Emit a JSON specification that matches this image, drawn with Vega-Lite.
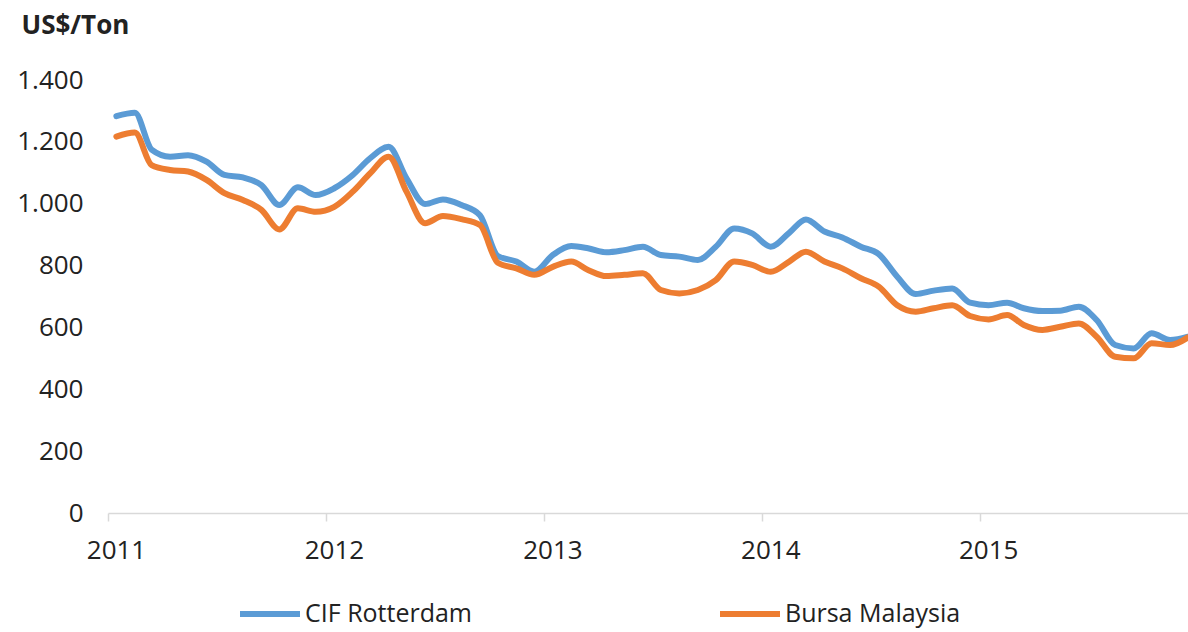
{
  "$schema": "https://vega.github.io/schema/vega-lite/v6.json",
  "width": 1080,
  "height": 433,
  "autosize": {"type": "none"},
  "padding": {"left": 108, "top": 80, "right": 0, "bottom": 119},
  "background": "white",
  "config": {
    "view": {"stroke": null},
    "font": "Open Sans",
    "text": {"font": "Open Sans"}
  },
  "data": {
    "values": [
      {"date":"2011-01-15","series":"CIF Rotterdam","price":1283},
      {"date":"2011-02-15","series":"CIF Rotterdam","price":1294},
      {"date":"2011-03-15","series":"CIF Rotterdam","price":1175},
      {"date":"2011-04-15","series":"CIF Rotterdam","price":1152},
      {"date":"2011-05-15","series":"CIF Rotterdam","price":1157},
      {"date":"2011-06-15","series":"CIF Rotterdam","price":1136},
      {"date":"2011-07-15","series":"CIF Rotterdam","price":1093},
      {"date":"2011-08-15","series":"CIF Rotterdam","price":1085},
      {"date":"2011-09-15","series":"CIF Rotterdam","price":1060},
      {"date":"2011-10-15","series":"CIF Rotterdam","price":996},
      {"date":"2011-11-15","series":"CIF Rotterdam","price":1053},
      {"date":"2011-12-15","series":"CIF Rotterdam","price":1028},
      {"date":"2012-01-15","series":"CIF Rotterdam","price":1050},
      {"date":"2012-02-15","series":"CIF Rotterdam","price":1093},
      {"date":"2012-03-15","series":"CIF Rotterdam","price":1147},
      {"date":"2012-04-15","series":"CIF Rotterdam","price":1184},
      {"date":"2012-05-15","series":"CIF Rotterdam","price":1082},
      {"date":"2012-06-15","series":"CIF Rotterdam","price":999},
      {"date":"2012-07-15","series":"CIF Rotterdam","price":1014},
      {"date":"2012-08-15","series":"CIF Rotterdam","price":996},
      {"date":"2012-09-15","series":"CIF Rotterdam","price":963},
      {"date":"2012-10-15","series":"CIF Rotterdam","price":831},
      {"date":"2012-11-15","series":"CIF Rotterdam","price":813},
      {"date":"2012-12-15","series":"CIF Rotterdam","price":780},
      {"date":"2013-01-15","series":"CIF Rotterdam","price":834},
      {"date":"2013-02-15","series":"CIF Rotterdam","price":863},
      {"date":"2013-03-15","series":"CIF Rotterdam","price":856},
      {"date":"2013-04-15","series":"CIF Rotterdam","price":843},
      {"date":"2013-05-15","series":"CIF Rotterdam","price":850},
      {"date":"2013-06-15","series":"CIF Rotterdam","price":861},
      {"date":"2013-07-15","series":"CIF Rotterdam","price":834},
      {"date":"2013-08-15","series":"CIF Rotterdam","price":829},
      {"date":"2013-09-15","series":"CIF Rotterdam","price":818},
      {"date":"2013-10-15","series":"CIF Rotterdam","price":861},
      {"date":"2013-11-15","series":"CIF Rotterdam","price":920},
      {"date":"2013-12-15","series":"CIF Rotterdam","price":904},
      {"date":"2014-01-15","series":"CIF Rotterdam","price":861},
      {"date":"2014-02-15","series":"CIF Rotterdam","price":906},
      {"date":"2014-03-15","series":"CIF Rotterdam","price":949},
      {"date":"2014-04-15","series":"CIF Rotterdam","price":910},
      {"date":"2014-05-15","series":"CIF Rotterdam","price":891},
      {"date":"2014-06-15","series":"CIF Rotterdam","price":861},
      {"date":"2014-07-15","series":"CIF Rotterdam","price":837},
      {"date":"2014-08-15","series":"CIF Rotterdam","price":764},
      {"date":"2014-09-15","series":"CIF Rotterdam","price":708},
      {"date":"2014-10-15","series":"CIF Rotterdam","price":719},
      {"date":"2014-11-15","series":"CIF Rotterdam","price":726},
      {"date":"2014-12-15","series":"CIF Rotterdam","price":680},
      {"date":"2015-01-15","series":"CIF Rotterdam","price":672},
      {"date":"2015-02-15","series":"CIF Rotterdam","price":680},
      {"date":"2015-03-15","series":"CIF Rotterdam","price":662},
      {"date":"2015-04-15","series":"CIF Rotterdam","price":653},
      {"date":"2015-05-15","series":"CIF Rotterdam","price":654},
      {"date":"2015-06-15","series":"CIF Rotterdam","price":667},
      {"date":"2015-07-15","series":"CIF Rotterdam","price":624},
      {"date":"2015-08-15","series":"CIF Rotterdam","price":543},
      {"date":"2015-09-15","series":"CIF Rotterdam","price":532},
      {"date":"2015-10-15","series":"CIF Rotterdam","price":581},
      {"date":"2015-11-15","series":"CIF Rotterdam","price":559},
      {"date":"2015-12-15","series":"CIF Rotterdam","price":570},
      {"date":"2011-01-15","series":"Bursa Malaysia","price":1217},
      {"date":"2011-02-15","series":"Bursa Malaysia","price":1230},
      {"date":"2011-03-15","series":"Bursa Malaysia","price":1125},
      {"date":"2011-04-15","series":"Bursa Malaysia","price":1109},
      {"date":"2011-05-15","series":"Bursa Malaysia","price":1104},
      {"date":"2011-06-15","series":"Bursa Malaysia","price":1077},
      {"date":"2011-07-15","series":"Bursa Malaysia","price":1034},
      {"date":"2011-08-15","series":"Bursa Malaysia","price":1012},
      {"date":"2011-09-15","series":"Bursa Malaysia","price":980},
      {"date":"2011-10-15","series":"Bursa Malaysia","price":917},
      {"date":"2011-11-15","series":"Bursa Malaysia","price":985},
      {"date":"2011-12-15","series":"Bursa Malaysia","price":974},
      {"date":"2012-01-15","series":"Bursa Malaysia","price":990},
      {"date":"2012-02-15","series":"Bursa Malaysia","price":1039},
      {"date":"2012-03-15","series":"Bursa Malaysia","price":1098},
      {"date":"2012-04-15","series":"Bursa Malaysia","price":1152},
      {"date":"2012-05-15","series":"Bursa Malaysia","price":1039},
      {"date":"2012-06-15","series":"Bursa Malaysia","price":937},
      {"date":"2012-07-15","series":"Bursa Malaysia","price":960},
      {"date":"2012-08-15","series":"Bursa Malaysia","price":950},
      {"date":"2012-09-15","series":"Bursa Malaysia","price":931},
      {"date":"2012-10-15","series":"Bursa Malaysia","price":809},
      {"date":"2012-11-15","series":"Bursa Malaysia","price":791},
      {"date":"2012-12-15","series":"Bursa Malaysia","price":770},
      {"date":"2013-01-15","series":"Bursa Malaysia","price":796},
      {"date":"2013-02-15","series":"Bursa Malaysia","price":813},
      {"date":"2013-03-15","series":"Bursa Malaysia","price":786},
      {"date":"2013-04-15","series":"Bursa Malaysia","price":766},
      {"date":"2013-05-15","series":"Bursa Malaysia","price":770},
      {"date":"2013-06-15","series":"Bursa Malaysia","price":775},
      {"date":"2013-07-15","series":"Bursa Malaysia","price":721},
      {"date":"2013-08-15","series":"Bursa Malaysia","price":710},
      {"date":"2013-09-15","series":"Bursa Malaysia","price":721},
      {"date":"2013-10-15","series":"Bursa Malaysia","price":753},
      {"date":"2013-11-15","series":"Bursa Malaysia","price":813},
      {"date":"2013-12-15","series":"Bursa Malaysia","price":802},
      {"date":"2014-01-15","series":"Bursa Malaysia","price":780},
      {"date":"2014-02-15","series":"Bursa Malaysia","price":813},
      {"date":"2014-03-15","series":"Bursa Malaysia","price":845},
      {"date":"2014-04-15","series":"Bursa Malaysia","price":813},
      {"date":"2014-05-15","series":"Bursa Malaysia","price":791},
      {"date":"2014-06-15","series":"Bursa Malaysia","price":759},
      {"date":"2014-07-15","series":"Bursa Malaysia","price":732},
      {"date":"2014-08-15","series":"Bursa Malaysia","price":672},
      {"date":"2014-09-15","series":"Bursa Malaysia","price":651},
      {"date":"2014-10-15","series":"Bursa Malaysia","price":662},
      {"date":"2014-11-15","series":"Bursa Malaysia","price":672},
      {"date":"2014-12-15","series":"Bursa Malaysia","price":637},
      {"date":"2015-01-15","series":"Bursa Malaysia","price":626},
      {"date":"2015-02-15","series":"Bursa Malaysia","price":640},
      {"date":"2015-03-15","series":"Bursa Malaysia","price":608},
      {"date":"2015-04-15","series":"Bursa Malaysia","price":592},
      {"date":"2015-05-15","series":"Bursa Malaysia","price":602},
      {"date":"2015-06-15","series":"Bursa Malaysia","price":613},
      {"date":"2015-07-15","series":"Bursa Malaysia","price":570},
      {"date":"2015-08-15","series":"Bursa Malaysia","price":505},
      {"date":"2015-09-15","series":"Bursa Malaysia","price":500},
      {"date":"2015-10-15","series":"Bursa Malaysia","price":549},
      {"date":"2015-11-15","series":"Bursa Malaysia","price":543},
      {"date":"2015-12-15","series":"Bursa Malaysia","price":568}
    ]
  },
  "mark": {"type": "line", "strokeWidth": 6, "interpolate": "monotone", "strokeCap": "round", "strokeJoin": "round"},
  "encoding": {
    "x": {
      "field": "date",
      "type": "temporal",
      "scale": {"type": "utc", "domain": ["2011-01-01", "2015-12-15"]},
      "axis": {
        "title": null,
        "format": "%Y",
        "tickCount": {"interval": "year", "step": 1},
        "domainColor": "#d9d9d9",
        "domainWidth": 1.5,
        "tickColor": "#d9d9d9",
        "tickWidth": 1.5,
        "tickSize": 8,
        "grid": false,
        "labelFont": "Open Sans",
        "labelFontSize": 26,
        "labelColor": "#222222",
        "labelPadding": 16,
        "labelOffset": 8,
        "labelFlush": false,
        "labelOverlap": false
      }
    },
    "y": {
      "field": "price",
      "type": "quantitative",
      "scale": {"domain": [0, 1400], "nice": false},
      "axis": {
        "values": [0, 200, 400, 600, 800, 1000, 1200, 1400],
        "labelExpr": "replace(format(datum.value, ','), ',', '.')",
        "domain": false,
        "ticks": false,
        "grid": false,
        "labelFont": "Open Sans",
        "labelFontSize": 26,
        "labelColor": "#222222",
        "labelPadding": 25,
        "title": "US$/Ton",
        "titleAngle": 0,
        "titleAlign": "left",
        "titleBaseline": "middle",
        "titleX": -87,
        "titleY": -55,
        "titleFont": "Open Sans",
        "titleFontSize": 26,
        "titleFontWeight": "bold",
        "titleColor": "#222222"
      }
    },
    "color": {
      "field": "series",
      "type": "nominal",
      "scale": {"domain": ["CIF Rotterdam", "Bursa Malaysia"], "range": ["#5B9BD5", "#ED7D31"]},
      "legend": {
        "title": null,
        "orient": "none",
        "direction": "horizontal",
        "legendX": 129,
        "legendY": 501,
        "symbolType": "stroke",
        "symbolSize": 3600,
        "symbolStrokeWidth": 6,
        "labelFont": "Open Sans",
        "labelFontSize": 25,
        "labelColor": "#222222",
        "labelOffset": 2,
        "labelLimit": 400,
        "columnPadding": 235
      }
    }
  }
}
